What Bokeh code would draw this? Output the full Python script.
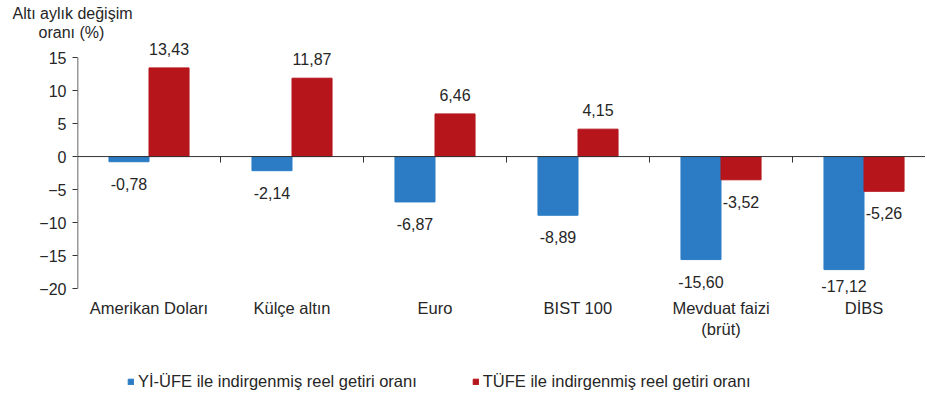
from bokeh.plotting import figure
from bokeh.layouts import column
from bokeh.models import (ColumnDataSource, Range1d, FixedTicker, Span, Title,
                          Legend, LegendItem)
from bokeh.embed import file_html
from bokeh.resources import INLINE

categories = ["Amerikan Doları", "Külçe altın", "Euro", "BIST 100",
              "Mevduat faizi\n(brüt)", "DİBS"]
yi_ufe = [-0.78, -2.14, -6.87, -8.89, -15.60, -17.12]
tufe = [13.43, 11.87, 6.46, 4.15, -3.52, -5.26]
series_names = ["Yİ-ÜFE ile indirgenmiş reel getiri oranı",
                "TÜFE ile indirgenmiş reel getiri oranı"]
y_ticks = [-20, -15, -10, -5, 0, 5, 10, 15]
y_title = ["Altı aylık değişim", "oranı (%)"]

FONT = "Liberation Sans"
BLUE = "#2B7CC4"
RED = "#B5151B"
TXT = "#262626"

Y0, Y1 = -21.8, 17.58
X1 = 5.93
W, H = 925, 350
TOP, BOTTOM = 40, 50
px_per_unit = (H - TOP - BOTTOM) / (Y1 - Y0)

p = figure(width=W, height=H, output_backend="svg", toolbar_location=None,
           x_range=Range1d(0, X1), y_range=Range1d(Y0, Y1),
           min_border_left=77, min_border_right=0, min_border_top=TOP,
           min_border_bottom=BOTTOM)
p.outline_line_color = None
p.grid.visible = False
p.background_fill_color = "white"

centers = [i + 0.5 for i in range(len(categories))]
bw = 0.28


def fmt(v):
    return f"{v:.2f}".replace(".", ",")


def label_offsets(vals):
    out = []
    for v in vals:
        if v >= 0:
            out.append(-19)
        else:
            out.append(min(22, 129 - (-v) * px_per_unit))
    return out


for vals, color, shift in [(yi_ufe, BLUE, -bw / 2), (tufe, RED, bw / 2)]:
    xs = [c + shift for c in centers]
    src = ColumnDataSource(dict(x=xs, top=vals, lab=[fmt(v) for v in vals],
                                off=label_offsets(vals)))
    p.vbar(x="x", top="top", bottom=0, width=bw, source=src,
           fill_color=color, line_color=color)
    p.text(x="x", y="top", text="lab", y_offset="off", source=src,
           text_align="center", text_baseline="middle",
           text_font_size="16px", text_color=TXT,
           text_font={"value": FONT})

# zero line and category separators
p.add_layout(Span(location=0, dimension="width", line_color="#333333",
                  line_width=1))
sep = list(range(1, len(categories)))
p.segment(x0=sep, x1=sep, y0=[0] * len(sep), y1=[-6 / px_per_unit] * len(sep),
          line_color="#333333", line_width=1)
# y axis line from -20 to 15
p.segment(x0=[0], x1=[0], y0=[y_ticks[0]], y1=[y_ticks[-1]],
          line_color="#333333", line_width=1.5)

# y axis
ya = p.yaxis[0]
ya.ticker = FixedTicker(ticks=y_ticks)
ya.axis_line_color = None
ya.major_tick_out = 5
ya.major_tick_in = 0
ya.minor_tick_line_color = None
ya.major_tick_line_color = "#333333"
ya.major_label_text_font = FONT
ya.major_label_text_font_size = "16px"
ya.major_label_text_color = TXT
ya.major_label_standoff = 6

# x axis (labels only)
xa = p.xaxis[0]
xa.ticker = FixedTicker(ticks=centers)
xa.major_label_overrides = {c: n for c, n in zip(centers, categories)}
xa.axis_line_color = None
xa.major_tick_line_color = None
xa.major_tick_out = 0
xa.major_tick_in = 0
xa.minor_tick_line_color = None
xa.minor_tick_out = 0
xa.major_label_text_font = FONT
xa.major_label_text_font_size = "16.5px"
xa.major_label_text_color = TXT
xa.major_label_standoff = -2

# y title, two centered lines above the frame (nearest the frame first)
p.add_layout(Title(text=y_title[1], align="left", offset=-39, standoff=0,
                   text_font=FONT, text_font_size="16px",
                   text_font_style="normal", text_color=TXT), "above")
p.add_layout(Title(text=y_title[0], align="left", offset=-65, standoff=0,
                   text_font=FONT, text_font_size="16px",
                   text_font_style="normal", text_color=TXT), "above")

# legend strip below the chart (proxy glyphs lie outside its visible range)
lg = figure(width=W, height=48, output_backend="svg", toolbar_location=None,
            x_range=Range1d(0, 1), y_range=Range1d(0, 1),
            x_axis_type=None, y_axis_type=None,
            min_border_left=0, min_border_right=0, min_border_top=0,
            min_border_bottom=0)
lg.outline_line_color = None
lg.grid.visible = False
proxies = [lg.vbar(x=[-5], top=[-5], bottom=-6, width=0.1,
                   fill_color=c, line_color=c)
           for c in (BLUE, RED)]
legend = Legend(items=[LegendItem(label=n, renderers=[r])
                       for n, r in zip(series_names, proxies)],
                orientation="horizontal", location=(50, 7),
                label_text_font=FONT, label_text_font_size="16.5px",
                label_text_color=TXT, glyph_width=7, glyph_height=7,
                spacing=55, label_standoff=4, border_line_color=None,
                background_fill_alpha=0, padding=0, margin=0)
lg.add_layout(legend, "center")

layout = column(p, lg, spacing=0)
open("out.html", "w").write(file_html(layout, INLINE))
